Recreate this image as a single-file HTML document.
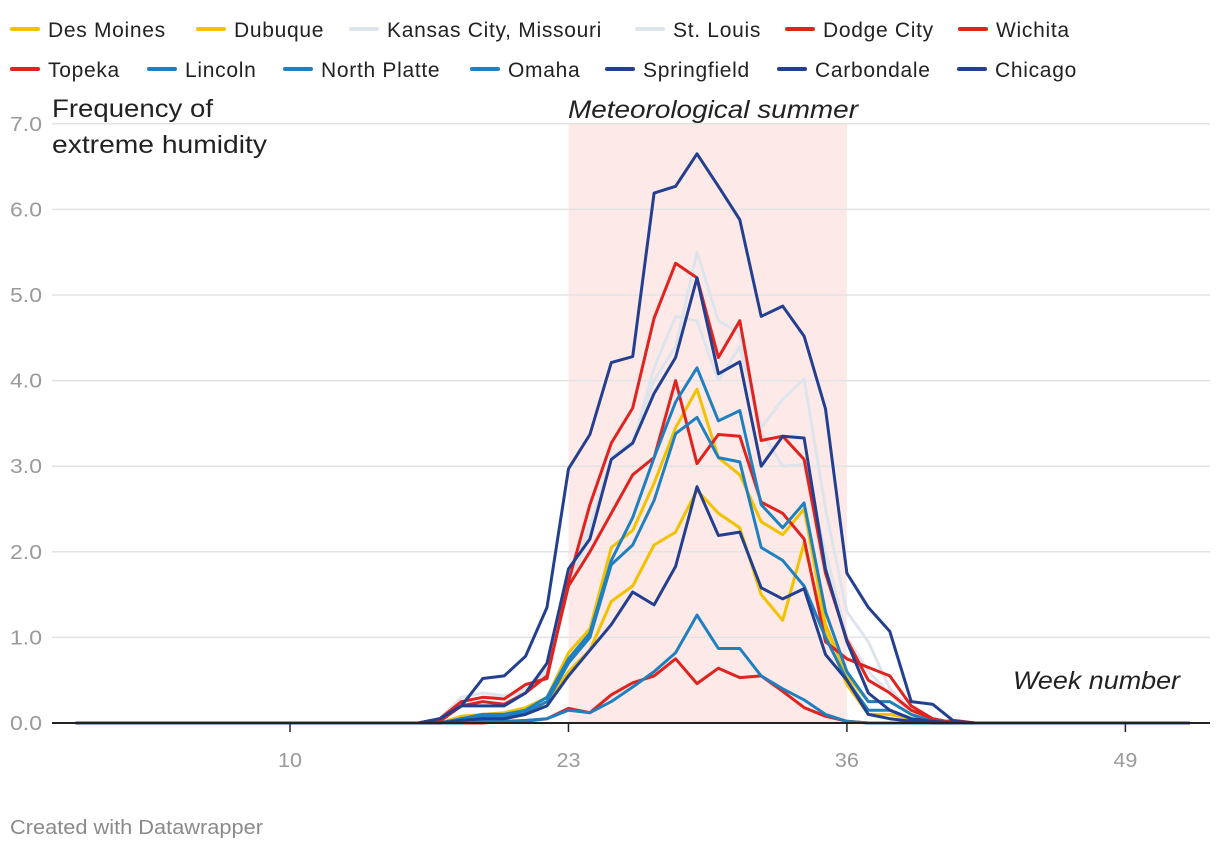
<!DOCTYPE html>
<html><head><meta charset="utf-8"><style>
body{margin:0;background:#fff;font-family:"Liberation Sans",sans-serif;}
#wrap{position:relative;width:1220px;height:850px;overflow:hidden;}
.leg{position:absolute;font-size:21px;letter-spacing:0.7px;color:#222;white-space:nowrap;}
.leg i{display:inline-block;width:30px;height:4px;vertical-align:middle;margin-right:8px;position:relative;top:-2px;border-radius:2px;}
</style></head><body>
<div id="wrap">
<div id="legend"></div>
<svg id="svg" width="1220" height="850" style="position:absolute;left:0;top:0"></svg>
</div>
<script>
const firstWeek = 16;
const series = ["Des Moines","Dubuque","Kansas City, Missouri","St. Louis","Dodge City","Wichita","Topeka","Lincoln","North Platte","Omaha","Springfield","Carbondale","Chicago"];
const desMoines   = [0,0,0.08,0.1,0.12,0.18,0.3,0.82,1.1,2.05,2.25,2.8,3.45,3.9,3.1,2.9,2.35,2.2,2.5,1.15,0.55,0.25,0.25,0.1,0.02,0];
const dubuque     = [0,0,0.05,0.05,0.05,0.1,0.25,0.6,0.85,1.42,1.6,2.08,2.23,2.72,2.45,2.28,1.5,1.2,2.1,1.05,0.45,0.1,0.1,0.05,0,0];
const kansasCity  = [0,0.05,0.3,0.35,0.32,0.35,0.6,1.6,2.2,3.1,3.25,4.15,4.75,4.7,4.0,4.4,3.4,3.0,3.02,2.0,1.0,0.6,0.35,0.1,0.02,0];
const stLouis     = [0,0.05,0.25,0.3,0.3,0.4,0.65,1.7,2.3,3.1,3.3,4.0,4.4,5.5,4.7,4.55,3.45,3.78,4.02,2.5,1.3,0.95,0.4,0.15,0.02,0];
const dodgeCity   = [0,0.05,0.25,0.3,0.28,0.45,0.52,1.65,2.55,3.27,3.68,4.73,5.37,5.2,4.27,4.7,3.3,3.35,3.08,1.75,0.97,0.5,0.35,0.15,0.05,0];
const wichita     = [0,0.02,0.2,0.25,0.22,0.35,0.55,1.6,2.0,2.45,2.9,3.1,4.0,3.03,3.37,3.35,2.58,2.45,2.15,0.95,0.75,0.65,0.55,0.2,0.05,0];
const topeka      = [0,0,0,0,0.02,0.02,0.05,0.17,0.12,0.33,0.47,0.55,0.75,0.46,0.64,0.53,0.55,0.37,0.18,0.08,0.02,0,0,0,0,0.03];
const lincoln     = [0,0,0.05,0.1,0.1,0.15,0.3,0.75,1.05,1.9,2.4,3.1,3.75,4.15,3.53,3.65,2.55,2.28,2.57,1.3,0.6,0.25,0.25,0.1,0.02,0];
const northPlatte = [0,0,0.05,0.08,0.08,0.12,0.25,0.7,1.0,1.85,2.08,2.6,3.38,3.57,3.1,3.05,2.05,1.9,1.6,1.0,0.5,0.15,0.15,0.05,0,0];
const omaha       = [0,0,0,0.02,0.02,0.03,0.05,0.15,0.12,0.25,0.42,0.6,0.82,1.26,0.87,0.87,0.55,0.4,0.27,0.1,0.02,0,0,0,0,0];
const springfield = [0,0.05,0.2,0.2,0.2,0.35,0.7,1.8,2.15,3.08,3.27,3.85,4.27,5.2,4.08,4.22,3.0,3.35,3.33,1.8,0.95,0.35,0.15,0.05,0.02,0];
const carbondale  = [0,0,0.03,0.05,0.05,0.1,0.2,0.55,0.85,1.15,1.53,1.38,1.83,2.76,2.19,2.23,1.58,1.45,1.57,0.8,0.5,0.1,0.05,0.02,0,0];
const chicago     = [0,0.05,0.2,0.52,0.55,0.78,1.35,2.97,3.37,4.21,4.28,6.19,6.27,6.65,6.27,5.88,4.75,4.87,4.52,3.67,1.75,1.35,1.07,0.25,0.22,0.02];
const yTicks = [0,1,2,3,4,5,6,7];
const xTicks = [10,23,36,49];

const YEL="#f2c200",GRY="#dde4ec",RED="#e0231f",BLU="#1f80c0",NAV="#233f8f";
const colors=[YEL,YEL,GRY,GRY,RED,RED,RED,BLU,BLU,BLU,NAV,NAV,NAV];
const data=[desMoines,dubuque,kansasCity,stLouis,dodgeCity,wichita,topeka,lincoln,northPlatte,omaha,springfield,carbondale,chicago];
const xs=w=>75.8+w*21.42;
const ys=v=>723-v*85.6;
const NS="http://www.w3.org/2000/svg";
const svg=document.getElementById('svg');
function mk(t,a,p){const e=document.createElementNS(NS,t);for(const k in a)e.setAttribute(k,a[k]);(p||svg).appendChild(e);return e;}

const band=mk('rect',{x:xs(23),y:ys(7),width:xs(36)-xs(23),height:ys(0)-ys(7),fill:"#fdeae8"});


yTicks.forEach(v=>{
  if(v>0){const g=mk('line',{x1:52,x2:1210,y1:ys(v),y2:ys(v),stroke:"#e3e3e3","stroke-width":1.5});
  
  }
  const t=mk('text',{x:10,y:ys(v)+7,"font-size":20,fill:"#9a9a9a","font-family":"Liberation Sans, sans-serif",textLength:32,lengthAdjust:"spacingAndGlyphs"});
  t.textContent=v.toFixed(1);
  
  
});
xTicks.forEach(w=>{
  const l=mk('line',{x1:xs(w),x2:xs(w),y1:723,y2:732,stroke:"#222","stroke-width":1.5});
  
  
  const t=mk('text',{x:xs(w),y:767,"font-size":20,fill:"#9a9a9a","text-anchor":"middle","font-family":"Liberation Sans, sans-serif",textLength:24,lengthAdjust:"spacingAndGlyphs"});
  t.textContent=w;
  
  
});
const order=[2,3,0,1,4,5,6,7,8,9,10,11,12];
order.forEach(i=>{
  const arr=data[i];let d="";
  for(let w=0;w<=52;w++){const k=w-firstWeek;const v=(k>=0&&k<arr.length)?arr[k]:0;d+=(w?"L":"M")+xs(w).toFixed(1)+","+ys(v).toFixed(1);}
  const p=mk('path',{d:d,fill:"none",stroke:colors[i],"stroke-width":3,"stroke-linejoin":"round"});
  
  
});
const base=mk('line',{x1:52,x2:1210,y1:723,y2:723,stroke:"#222","stroke-width":2});


function txt(x,y,s,opts,name){const t=mk('text',Object.assign({x:x,y:y,"font-family":"Liberation Sans, sans-serif",lengthAdjust:"spacingAndGlyphs"},opts));t.textContent=s;return t;}
txt(52,117,"Frequency of",{"font-size":25,fill:"#222",textLength:161},"y-axis-title-line1");
txt(52,153,"extreme humidity",{"font-size":25,fill:"#222",textLength:215},"y-axis-title-line2");
txt(568,118,"Meteorological summer",{"font-size":25,fill:"#222","font-style":"italic",textLength:290},"summer-label");
txt(1013,689,"Week number",{"font-size":25,fill:"#222","font-style":"italic",textLength:167},"x-axis-title");
txt(10,834,"Created with Datawrapper",{"font-size":20,fill:"#8a8a8a",textLength:253},"footer-credit");

const legPos=[[10,30],[196,30],[349,30],[635,30],[785,30],[958,30],[10,70],[147,70],[283,70],[470,70],[605,70],[777,70],[957,70]];
const legOrder=[0,1,2,3,4,5,6,7,8,9,10,11,12];
const lg=document.getElementById('legend');
legOrder.forEach((i,j)=>{
  const d=document.createElement('div');d.className='leg';
  d.style.left=legPos[j][0]+'px';d.style.top=(legPos[j][1]-11)+'px';
  d.innerHTML='<i style="background:'+colors[i]+'"></i>'+series[i];
  
  
  lg.appendChild(d);
});
</script>
</body></html>
